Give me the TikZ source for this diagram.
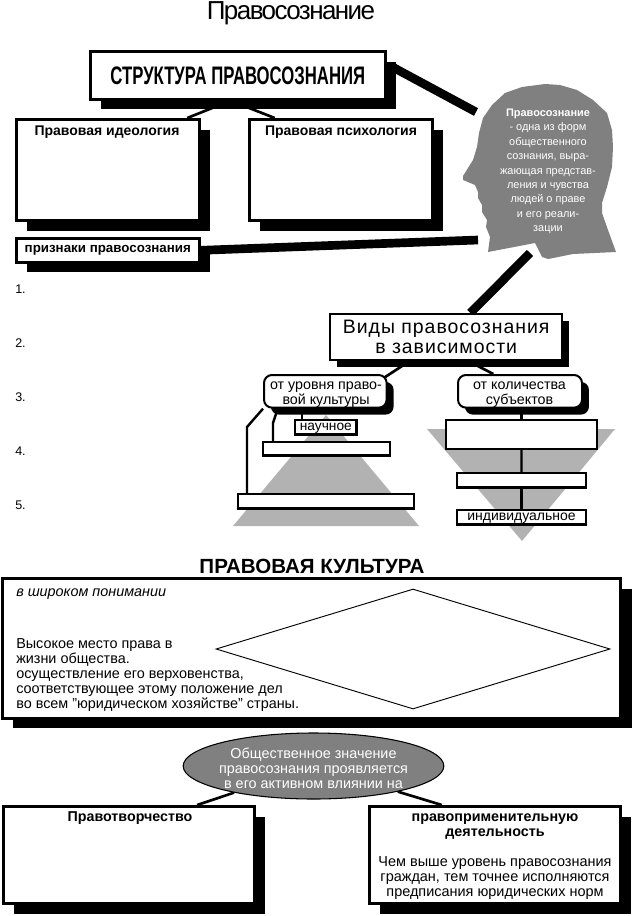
\documentclass[tikz,border=0pt]{standalone}
\usepackage{fontspec}
\setmainfont{Liberation Sans}
\usetikzlibrary{positioning,shapes.geometric,shadows,backgrounds}
\definecolor{headgray}{HTML}{808080}
\definecolor{pyrgray}{HTML}{B2B2B2}
\newcommand{\pxfont}[1]{\fontsize{#1}{#1}\selectfont}
\begin{document}
\begin{tikzpicture}[
    x=0.75pt, y=-0.75pt,
    every node/.style={font=\pxfont{9.4}},
    panel/.style={draw, line width=2.2pt, fill=white, rectangle, inner sep=0pt, anchor=north west, align=center},
    deep/.style={drop shadow={shadow xshift=8pt, shadow yshift=-7.6pt, opacity=1, fill=black}},
    shallow/.style={drop shadow={shadow xshift=5.2pt, shadow yshift=-5.2pt, opacity=1, fill=black}},
    smallpanel/.style={draw, line width=1.8pt, fill=white, rectangle, inner sep=0pt, anchor=north west, align=center, text height=5.4pt, text depth=0pt},
    pill/.style={draw, line width=1.5pt, fill=white, rectangle, rounded corners=6pt, inner sep=0pt, anchor=north west},
    plain/.style={inner sep=0pt, align=center},
    leftlabel/.style={inner sep=0pt, anchor=west},
    bar/.style={line width=6.5pt, black},
    link/.style={line width=2pt, black},
    thinlink/.style={line width=1.8pt, black}
]
\useasboundingbox (0,0) rectangle (632,916);
% background shapes
\fill[pyrgray] (326,415) -- (419,526) -- (233,526) -- cycle;
\fill[pyrgray] (427,429) -- (615,429) -- (522,541) -- cycle;
\fill[headgray] (545,84) -- (560,85) -- (577,90) -- (593,100) -- (607,113) -- (612,130) -- (613,147)
  -- (612,167) -- (607,187) -- (602,203) -- (602,213) -- (608,230) -- (616,252) -- (573,254) -- (548,259)
  -- (542,257) -- (535,243) -- (488,252) -- (490,237) -- (486,227) -- (487,220) -- (482,212) -- (482,205)
  -- (478,198) -- (478,192) -- (475,185) -- (463,180) -- (463,176) -- (473,160) -- (477,147) -- (479,133)
  -- (483,118) -- (492,105) -- (505,93) -- (522,87) -- cycle;
% title
\node[plain, font=\pxfont{19.5}] (title) at (291,13) {\addfontfeature{LetterSpace=-6}Правосознание};
% structure
\node[panel, deep, minimum width=221pt, minimum height=35.8pt, font=\pxfont{19}\bfseries] (struct) at (89,50) {\scalebox{0.66}[1]{СТРУКТУРА ПРАВОСОЗНАНИЯ}};
\node[panel, deep, minimum width=137pt, minimum height=75.8pt] (ideo) at (15,118) {};
\node[panel, deep, minimum width=137pt, minimum height=75.8pt] (psych) at (248,118) {};
\node[plain, font=\pxfont{10.5}\bfseries] (ideolabel) at (107,132.5) {Правовая идеология};
\node[plain, font=\pxfont{10.5}\bfseries] (psychlabel) at (341,132.5) {Правовая психология};
\node[panel, deep, minimum width=137pt, minimum height=17.8pt, font=\pxfont{10}\bfseries] (signs) at (15,237) {признаки правосознания};
\foreach \num/\ypos in {1/289,2/343,3/397,4/451,5/505}
  \node[leftlabel] (item\num) at (15,\ypos) {\num.};
% head
\node[plain, text=white, font=\pxfont{8.2}] (headtext) at (548,171.5) {\textbf{Правосознание}\\[2.6pt]- одна из форм\\[2.6pt]общественного\\[2.6pt]сознания, выра-\\[2.6pt]жающая представ-\\[2.6pt]ления и чувства\\[2.6pt]людей о праве\\[2.6pt]и его реали-\\[2.6pt]зации};
\coordinate (headtop) at (476,112);
\coordinate (headmid) at (478,240);
\coordinate (headlow) at (530,253);
% kinds
\node[panel, shallow, line width=1.8pt, minimum width=174pt, minimum height=34.5pt, font=\pxfont{14.6}] (kinds) at (329,313) {\addfontfeature{LetterSpace=5}Виды правосознания\\[0.4pt]\addfontfeature{LetterSpace=5}в зависимости};
\node[pill, shallow, minimum width=92pt, minimum height=24.5pt] (level) at (263,374) {};
\node[pill, shallow, minimum width=93pt, minimum height=24.5pt] (count) at (457,374) {};
\node[plain, font=\pxfont{10.7}] (levellabel) at (326,394.5) {от уровня право-\\[0.6pt]вой культуры};
\node[plain, font=\pxfont{10.7}] (countlabel) at (519.5,394.5) {от количества\\[0.6pt]субъектов};
\node[smallpanel, minimum width=46pt, minimum height=10.7pt, font=\pxfont{10.3}] (sci) at (294,419) {научное};
\node[smallpanel, minimum width=95pt, minimum height=10pt] (mid) at (262,441) {};
\node[smallpanel, minimum width=131.7pt, minimum height=10.7pt] (base) at (237,493) {};
\node[smallpanel, minimum width=113pt, minimum height=21.4pt] (large) at (445,419) {};
\node[smallpanel, minimum width=96.4pt, minimum height=10.7pt] (group) at (456,472) {};
\node[smallpanel, minimum width=96.4pt, minimum height=10.7pt, font=\pxfont{10.5}] (indiv) at (456,509) {индивидуальное};
\coordinate (midbend) at (273,423);
\coordinate (basebend) at (247,427);
\coordinate (levelfoot) at (278,408);
% culture
\node[plain, font=\pxfont{15.4}\bfseries] (culttitle) at (312,566) {ПРАВОВАЯ КУЛЬТУРА};
\node[panel, deep, minimum width=463.8pt, minimum height=104.8pt] (culture) at (1,577) {};
\node[diamond, draw, line width=0.7pt, aspect=3.28, minimum width=295.5pt, minimum height=90pt, inner sep=0pt] (rhomb) at (413,649) {};
\node[leftlabel, font=\pxfont{10.8}\itshape] (broad) at (16,594) {в широком понимании};
\node[leftlabel, align=left, font=\pxfont{10.8}] (highplace) at (16,675) {Высокое место права в\\[0.45pt]жизни общества.\\[0.45pt]осуществление его верховенства,\\[0.45pt]соответствующее этому положение дел\\[0.45pt]во всем "юридическом хозяйстве" страны.};
% social meaning
\node[ellipse, draw, line width=0.8pt, fill=headgray, minimum width=195.5pt, minimum height=49.5pt, inner sep=0pt] (meaning) at (313.5,766) {};
\node[plain, text=white, font=\pxfont{10.8}] (meaninglabel) at (313.5,768) {Общественное значение\\[0.45pt]правосознания проявляется\\[0.45pt]в его активном влиянии на};
\node[panel, deep, minimum width=188.5pt, minimum height=73pt] (create) at (2,805) {};
\node[panel, deep, minimum width=188.5pt, minimum height=73pt] (apply) at (368,805) {};
\node[plain, font=\pxfont{10.7}\bfseries] (createlabel) at (130,818.5) {Правотворчество};
\node[plain, font=\pxfont{10.75}\bfseries] (applylabel) at (495,827) {правоприменительную\\[0.5pt]деятельность};
\node[plain, font=\pxfont{10.85}] (applytext) at (495,878) {Чем выше уровень правосознания\\[0.4pt]граждан, тем точнее исполняются\\[0.4pt]предписания юридических норм};
% connectors
\begin{scope}[on background layer]
\draw[bar] ([shift={(3pt,7pt)}]struct.east) -- (headtop);
\draw[bar] (signs.east) -- (headmid);
\draw[bar] (kinds) -- (headlow);
\draw[link] ([xshift=-5.5pt]struct.south) -- ([xshift=-10pt]ideo.north east);
\draw[link] ([xshift=-5.5pt]struct.south) -- ([xshift=20pt]psych.north west);
\draw[link] (kinds) -- ([shift={(-3pt,-3pt)}]level.north east);
\draw[link] ([xshift=17pt]kinds.south) -- ([xshift=-20pt]count.north);
\draw[link] (meaning) -- ([xshift=51pt]create.north);
\draw[link] (meaning) -- ([xshift=-40pt]apply.north);
\end{scope}
\draw[thinlink] (level.south -| 302,0) -- (sci.north -| 302,0);
\draw[thinlink] (levelfoot) -- (midbend) -- (mid.north -| midbend);
\draw[thinlink] (level.south west) -- (basebend) -- (base.north -| basebend);
\draw[thinlink] (count.south -| large.north) -- (large.north);
\draw[thinlink] (large) -- (group);
\draw[thinlink] (group) -- (indiv);
\end{tikzpicture}
\end{document}
